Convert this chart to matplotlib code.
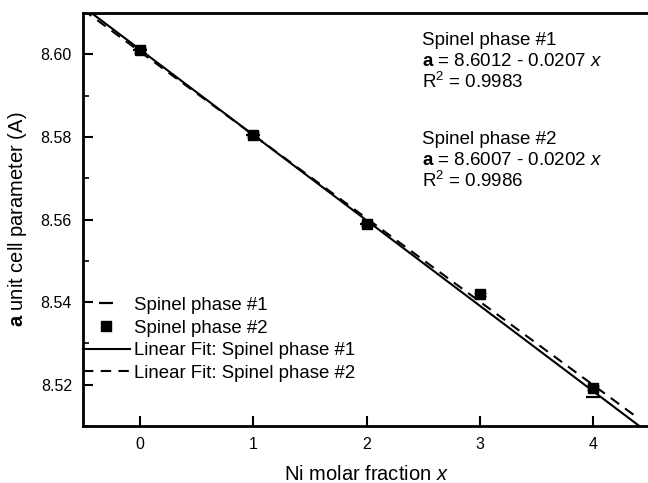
import matplotlib
matplotlib.use("Agg")
import matplotlib.pyplot as plt
from matplotlib.lines import Line2D
import numpy as np

plt.rcParams['font.family'] = ['Liberation Sans', 'DejaVu Sans']
plt.rcParams['mathtext.fontset'] = 'custom'
plt.rcParams['mathtext.rm'] = 'Liberation Sans'
plt.rcParams['mathtext.it'] = 'Liberation Sans:italic'
plt.rcParams['mathtext.bf'] = 'Liberation Sans:bold'

# data
x1 = [0, 1, 2, 4]
a1 = [8.601, 8.5805, 8.559, 8.5171]
x2 = [0, 1, 2, 3, 4]
a2 = [8.601, 8.5805, 8.559, 8.5419, 8.5193]
err2 = [0.0006, 0.0006, 0.0005, 0.0004, 0.0005]

# fit coefficients (intercept, slope) from the annotation
fit1 = (8.6012, -0.0207)
fit2 = (8.6007, -0.0202)

fig = plt.figure(figsize=(6.48, 4.83), dpi=100)
ax = fig.add_axes([83/648, 1-426/483, 567/648, 413/483])

xf1 = np.linspace(-0.5, 4.5, 50)
xf2 = np.linspace(-0.5, 4.38, 50)
ax.plot(x1, a1, ls='none', marker='_', ms=10, mew=1.6, color='k')
ax.errorbar(x2, a2, yerr=err2, fmt='s', ms=7, color='k', capsize=4, elinewidth=1)
ax.plot(xf1, fit1[0] + fit1[1]*xf1, '-', color='k', lw=1.5)
ax.plot(xf2, fit2[0] + fit2[1]*xf2, '--', color='k', lw=1.5, dashes=(5, 3.5))

ax.set_xlim(-0.5, 4.5)
ax.set_ylim(8.51, 8.61)
ax.set_xticks([0, 1, 2, 3, 4])
ax.set_yticks([8.52, 8.54, 8.56, 8.58, 8.60])
ax.set_yticklabels(['8.52', '8.54', '8.56', '8.58', '8.60'])
ax.set_yticks([8.51, 8.53, 8.55, 8.57, 8.59], minor=True)
ax.tick_params(which='major', direction='in', length=7, width=1.5, labelsize=11.5, pad=8)
ax.tick_params(which='minor', direction='in', length=4, width=1.2)
ax.spines['right'].set_visible(False)
for s in ['left', 'top', 'bottom']:
    ax.spines[s].set_linewidth(2)

ax.set_xlabel(r'Ni molar fraction $\mathit{x}$', fontsize=14.5, labelpad=9)
ax.set_ylabel(r'$\mathbf{a}$ unit cell parameter (A)', fontsize=14.5, labelpad=8)

handles = [
    Line2D([], [], ls='none', marker='_', ms=10, mew=1.6, color='k'),
    Line2D([], [], ls='none', marker='s', ms=7, color='k'),
    Line2D([], [], ls='-', lw=1.5, color='k'),
    Line2D([], [], ls='--', lw=1.5, dashes=(5, 3.5), color='k'),
]
labels = ['Spinel phase #1', 'Spinel phase #2',
          'Linear Fit: Spinel phase #1', 'Linear Fit: Spinel phase #2']
ax.legend(handles, labels, loc='lower left', bbox_to_anchor=(0.0, 0.107),
          frameon=False, fontsize=13.4, handlelength=2.5, handletextpad=0.25,
          labelspacing=0.3, borderaxespad=0, borderpad=0)

note_x = (422 - 83) / 567
notes = ['Spinel phase #1', r'$\mathbf{a}$ = 8.6012 - 0.0207 $\mathit{x}$', r'R$^2$ = 0.9983',
         'Spinel phase #2', r'$\mathbf{a}$ = 8.6007 - 0.0202 $\mathit{x}$', r'R$^2$ = 0.9986']
note_base = [44.7, 65.7, 87.7, 143.7, 164.7, 186.7]
for t, yb in zip(notes, note_base):
    ax.text(note_x, (426 - yb) / 413, t, transform=ax.transAxes, fontsize=13.5, va='baseline')

fig.savefig('out.png', dpi=100)
